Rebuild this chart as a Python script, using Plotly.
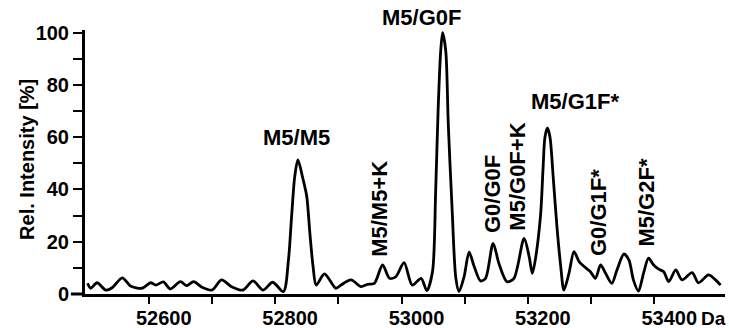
import plotly.graph_objects as go

# Mass (Da) and relative intensity (%)
mass = [52503, 52508, 52518, 52532, 52542, 52558, 52571, 52589, 52603, 52611,
        52623, 52634, 52650, 52660, 52671, 52684, 52700, 52715, 52731, 52749,
        52765, 52781, 52796, 52813, 52821, 52826, 52831, 52836, 52844, 52850,
        52855, 52860, 52865, 52878, 52896, 52904, 52920, 52936, 52946, 52957,
        52970, 52981, 52991, 53004, 53017, 53031, 53040, 53049, 53054, 53058,
        53062, 53065, 53070, 53074, 53080, 53086, 53091, 53099, 53107, 53115,
        53125, 53133, 53145, 53154, 53167, 53178, 53194, 53202, 53207, 53211,
        53220, 53224, 53227, 53231, 53235, 53240, 53246, 53252, 53257, 53265,
        53273, 53281, 53289, 53299, 53307, 53315, 53323, 53333, 53341, 53352,
        53360, 53367, 53375, 53383, 53391, 53399, 53407, 53415, 53423, 53434,
        53444, 53460, 53470, 53486, 53497, 53505]
intensity = [4.1, 2.2, 4.3, 1.5, 2.4, 6.2, 3.1, 2.2, 4.3, 3.4,
             4.6, 1.9, 4.7, 3.2, 4.7, 2.6, 1.5, 5.4, 2.8, 1.5,
             5.0, 1.5, 4.5, 0.9, 13.0, 29.6, 45.0, 51.3, 44.0, 37.3,
             23.0, 10.5, 3.4, 7.7, 2.2, 3.4, 5.4, 2.8, 3.7, 4.1,
             11.1, 6.0, 6.6, 12.0, 3.4, 6.0, 1.3, 8.5, 39.0, 71.0,
             93.0, 100.0, 93.0, 65.0, 32.8, 6.0, 0.9, 6.6, 16.0, 10.5,
             5.0, 6.0, 19.4, 11.8, 4.7, 6.0, 21.3, 14.3, 7.9, 12.0,
             30.0, 48.0, 60.0, 63.5, 60.0, 45.0, 25.8, 10.5, 1.5, 7.9,
             16.2, 12.4, 10.5, 8.5, 6.0, 11.1, 7.9, 4.1, 9.2, 15.3,
             13.0, 5.4, 1.1, 7.9, 13.7, 11.1, 9.5, 8.5, 4.7, 9.2,
             5.4, 8.2, 4.3, 7.3, 5.4, 3.4]

x_tick_vals = [52600, 52700, 52800, 52900, 53000, 53100, 53200, 53300, 53400]
x_tick_text = ["52600", "", "52800", "", "53000", "", "53200", "", "53400"]
y_tick_vals = [0, 10, 20, 30, 40, 50, 60, 70, 80, 90, 100]
y_tick_text = ["0", "", "20", "", "40", "", "60", "", "80", "", "100"]

# Peak labels: text, mass position, vertical position (paper fraction), angle
label_text = ["M5/M5", "M5/G0F", "M5/G1F*", "M5/M5+K", "G0/G0F", "M5/G0F+K", "G0/G1F*", "M5/G2F*"]
label_mass = [52834, 53032, 53275, 52965, 53145, 53183, 53312, 53388]
label_ypos = [0.592, 1.046, 0.730, 0.324, 0.379, 0.445, 0.309, 0.345]
label_angle = [0, 0, 0, -90, -90, -90, -90, -90]

FONT = "Liberation Sans"
FS = 20
FS_LAB = 22
fig = go.Figure()
fig.add_trace(go.Scatter(x=mass, y=intensity, mode="lines",
                         line=dict(color="black", width=2.8, shape="spline", smoothing=0.8),
                         hoverinfo="skip", showlegend=False))

for t, m, v, a in zip(label_text, label_mass, label_ypos, label_angle):
    fig.add_annotation(x=m, y=v, xref="x", yref="paper", text="<b>%s</b>" % t,
                       textangle=a, showarrow=False,
                       font=dict(family=FONT, size=FS_LAB, color="black"),
                       xanchor="center", yanchor="middle")

fig.add_annotation(x=53471, y=-0.093, xref="x", yref="paper", text="<b>Da</b>",
                   showarrow=False, xanchor="left", yanchor="middle",
                   font=dict(family=FONT, size=19, color="black"))
fig.add_annotation(x=-0.0906, y=0.508, xref="paper", yref="paper",
                   text="<b>Rel. Intensity [%]</b>", textangle=-90, showarrow=False,
                   xanchor="center", yanchor="middle",
                   font=dict(family=FONT, size=FS, color="black"))

# x-axis line extends a little to the left of the y axis
fig.add_shape(type="line", xref="paper", yref="paper", x0=-0.022, x1=0, y0=0, y1=0,
              line=dict(color="black", width=3))

fig.update_layout(
    width=729, height=328,
    margin=dict(l=85, r=4, t=30, b=34, autoexpand=False),
    paper_bgcolor="white", plot_bgcolor="white",
    showlegend=False,
    font=dict(family=FONT, size=FS, color="black"),
    xaxis=dict(range=[52499, 53512], tickmode="array", tickvals=x_tick_vals,
               ticktext=x_tick_text, ticks="outside", ticklen=7, tickwidth=2,
               tickcolor="black", showline=True, linecolor="black", linewidth=3,
               showgrid=False, zeroline=False, ticklabelshift=15, ticklabelstandoff=-3,
               automargin=False,
               tickfont=dict(family=FONT, size=FS, color="black", weight="bold")),
    yaxis=dict(range=[0, 101], tickmode="array", tickvals=y_tick_vals,
               ticktext=y_tick_text, ticks="outside", ticklen=9, tickwidth=2,
               tickcolor="black", showline=True, linecolor="black", linewidth=3,
               showgrid=False, zeroline=False, automargin=False,
               tickfont=dict(family=FONT, size=FS, color="black", weight="bold")),
)

fig.write_html("out.html", config={"displayModeBar": False},
               post_script="document.body.style.margin='0px';document.body.style.overflow='hidden';")
